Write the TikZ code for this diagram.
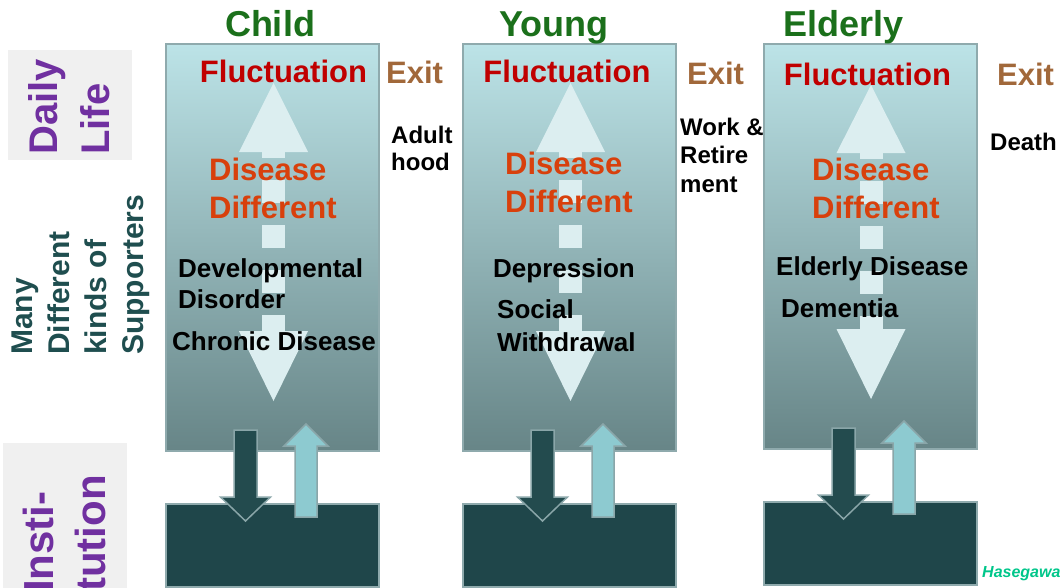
\documentclass[tikz,border=0pt]{standalone}
\usepackage{fontspec}
\setmainfont{Liberation Sans}
\usepackage{xcolor}
\usetikzlibrary{positioning}

\definecolor{paneltop}{HTML}{BCE3E7}
\definecolor{panelbot}{HTML}{678587}
\definecolor{panelrim}{HTML}{8FAAAD}
\definecolor{instfill}{HTML}{1F464A}
\definecolor{arrowrim}{HTML}{8AA6A9}
\definecolor{downfill}{HTML}{234B4E}
\definecolor{upfill}{HTML}{8DCAD0}
\definecolor{glowwhite}{HTML}{DCEEF0}
\definecolor{sidegray}{HTML}{F0F0F0}
\definecolor{sidepurple}{HTML}{7030A0}
\definecolor{supteal}{HTML}{1F4E4F}
\definecolor{headgreen}{HTML}{1B701B}
\definecolor{fluctred}{HTML}{C00000}
\definecolor{disorange}{HTML}{D8400C}
\definecolor{exitbrown}{HTML}{A1683A}
\definecolor{hasegreen}{HTML}{00C68A}

\begin{document}
\begin{tikzpicture}[
  x=1pt, y=-1pt,
  panel/.style={draw=panelrim, line width=2pt, top color=paneltop,
    bottom color=panelbot, minimum width=213pt, minimum height=407pt, inner sep=0pt},
  instbox/.style={draw=panelrim, line width=2pt, fill=instfill,
    minimum width=213pt, minimum height=83pt, inner sep=0pt},
  sidebg/.style={fill=sidegray, inner sep=0pt},
  sidetext/.style={rotate=90, anchor=north west, inner sep=0pt, align=left,
    font=\bfseries\fontsize{40}{52}\selectfont, text=sidepurple},
  stage/.style={anchor=base, inner sep=0pt, text=headgreen,
    font=\bfseries\fontsize{36}{40}\selectfont},
  fluct/.style={anchor=base, inner sep=0pt, text=fluctred,
    font=\bfseries\fontsize{31}{38}\selectfont},
  exitlbl/.style={anchor=base west, inner sep=0pt, text=exitbrown,
    font=\bfseries\fontsize{31}{38}\selectfont},
  disease/.style={anchor=base west, inner sep=0pt, align=left, text=disorange,
    font=\bfseries\fontsize{31}{38}\selectfont},
  ill/.style={anchor=base west, inner sep=0pt, align=left,
    font=\bfseries\fontsize{26}{31}\selectfont},
  event/.style={anchor=base west, inner sep=0pt, align=left,
    font=\bfseries\fontsize{24}{27}\selectfont},
  glow/.style={fill=glowwhite},
  glowshaft/.style={draw=glowwhite, line width=23pt, dash pattern=on 23pt off 22pt, dash phase=17pt},
  downarr/.style={draw=arrowrim, line width=1.5pt, fill=downfill},
  uparr/.style={draw=arrowrim, line width=1.5pt, fill=upfill}
]
  \useasboundingbox (0,0) rectangle (1060,587);
  \clip (0,0) rectangle (1060,587);

  % left hand labels
  \node[sidebg, minimum width=124pt, minimum height=110pt] (dailybg) at (70,105) {};
  \node[sidetext] (daily) at (28,155) {Daily\\Life};
  \node[sidebg, minimum width=124pt, minimum height=170pt] (instbg) at (65,528) {};
  \node[sidetext, font=\bfseries\fontsize{42}{52}\selectfont] (insti) at (23,592) {Insti-\\tution};
  \node[sidetext, text=supteal, font=\bfseries\fontsize{30}{37}\selectfont] (supporters)
    at (12,355) {Many\\Different\\kinds of\\Supporters};

  \node[anchor=base west, inner sep=0pt, text=hasegreen,
    font=\bfseries\itshape\fontsize{16}{18}\selectfont] (credit) at (982,577) {Hasegawa};

  % the three stages
  \node[panel] (child) at (272.5,247.5) {};
  \node[panel] (young) at (569.5,247.5) {};
  \node[panel, minimum height=405pt] (elderly) at (870.5,246.5) {};

  \node[instbox, below=51pt of child] (childinst) {};
  \node[instbox, below=51pt of young] (younginst) {};
  \node[instbox, below=51pt of elderly] (elderlyinst) {};

  % fluctuation arrows
  \coordinate (childup) at (273.5,83);
  \coordinate (youngup) at (570.5,83);
  \coordinate (elderlyup) at (871,85);
  \fill[glow] (childup) -- ++(34.5,69) -- ++(-69,0) -- cycle;
  \draw[glowshaft] (childup) ++(0,69) -- ++(0,179);
  \fill[glow] (childup) ++(-34.5,248) -- ++(69,0) -- ++(-34.5,70) -- cycle;
  \fill[glow] (youngup) -- ++(34.5,69) -- ++(-69,0) -- cycle;
  \draw[glowshaft] (youngup) ++(0,69) -- ++(0,179);
  \fill[glow] (youngup) ++(-34.5,248) -- ++(69,0) -- ++(-34.5,70) -- cycle;
  \fill[glow] (elderlyup) -- ++(34.5,68) -- ++(-69,0) -- cycle;
  \draw[glowshaft] (elderlyup) ++(0,68) -- ++(0,176);
  \fill[glow] (elderlyup) ++(-34.5,244) -- ++(69,0) -- ++(-34.5,70) -- cycle;

  % to and from the institution
  \coordinate (childdown) at (245.5,430);
  \coordinate (childback) at (306,517);
  \coordinate (youngdown) at (542.5,430);
  \coordinate (youngback) at (603,517);
  \coordinate (elderlydown) at (843.5,428);
  \coordinate (elderlyback) at (904,514);
  \draw[downarr] (childdown) ++(-11.5,0) -- ++(23,0) -- ++(0,67) -- ++(13.5,0)
    -- ++(-25,24) -- ++(-25,-24) -- ++(13.5,0) -- cycle;
  \draw[uparr] (childback) ++(-11,0) -- ++(22,0) -- ++(0,-71) -- ++(11,0)
    -- ++(-22,-22) -- ++(-22,22) -- ++(11,0) -- cycle;
  \draw[downarr] (youngdown) ++(-11.5,0) -- ++(23,0) -- ++(0,67) -- ++(13.5,0)
    -- ++(-25,24) -- ++(-25,-24) -- ++(13.5,0) -- cycle;
  \draw[uparr] (youngback) ++(-11,0) -- ++(22,0) -- ++(0,-71) -- ++(11,0)
    -- ++(-22,-22) -- ++(-22,22) -- ++(11,0) -- cycle;
  \draw[downarr] (elderlydown) ++(-11.5,0) -- ++(23,0) -- ++(0,67) -- ++(13.5,0)
    -- ++(-25,24) -- ++(-25,-24) -- ++(13.5,0) -- cycle;
  \draw[uparr] (elderlyback) ++(-11,0) -- ++(22,0) -- ++(0,-71) -- ++(11,0)
    -- ++(-22,-22) -- ++(-22,22) -- ++(11,0) -- cycle;

  % headings
  \node[stage] (childhead) at (270,36) {Child};
  \node[stage] (younghead) at (554,36) {Young};
  \node[stage] (elderlyhead) at (843.5,36) {Elderly};

  \node[fluct] (childfluct) at (283.5,82) {Fluctuation};
  \node[fluct] (youngfluct) at (567,82) {Fluctuation};
  \node[fluct] (elderlyfluct) at (867.5,85) {Fluctuation};

  \node[exitlbl] (childexit) at (386,83) {Exit};
  \node[exitlbl] (youngexit) at (687,84) {Exit};
  \node[exitlbl] (elderlyexit) at (997,85) {Exit};

  % base of a text of several lines is its last line
  \node[event] (adult) at (391,170) {Adult\\hood};
  \node[event, font=\bfseries\fontsize{24}{28.5}\selectfont] (work) at (680,192) {Work \&\\Retire\\ment};
  \node[event] (death) at (990,150) {Death};

  \node[disease] (childdis) at (209,218) {Disease\\Different};
  \node[disease] (youngdis) at (505,212) {Disease\\Different};
  \node[disease] (elderlydis) at (812,218) {Disease\\Different};

  % what goes wrong at each stage
  \node[ill] (devel) at (178,308) {Developmental\\Disorder};
  \node[ill] (chronic) at (172,350) {Chronic Disease};
  \node[ill] (depress) at (493,277) {Depression};
  \node[ill, font=\bfseries\fontsize{26}{33}\selectfont] (withdraw) at (497,351) {Social\\Withdrawal};
  \node[ill] (oldage) at (776,275) {Elderly Disease};
  \node[ill] (dementia) at (781,317) {Dementia};
\end{tikzpicture}
\end{document}
